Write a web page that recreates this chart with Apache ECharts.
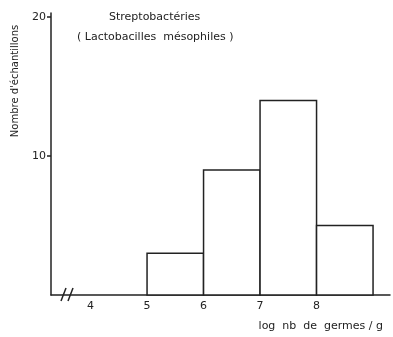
<!DOCTYPE html>
<html>
<head>
<meta charset="utf-8">
<script src="https://cdn.jsdelivr.net/npm/echarts@6/dist/echarts.min.js"></script>
<style>
  html, body { margin: 0; padding: 0; background: #fff; }
  #main { width: 393px; height: 337px; }
</style>
</head>
<body>
<div id="main"></div>
<script>
// class bounds (log germs / g) and sample counts
var binStart = [5, 6, 7, 8];
var binEnd = [6, 7, 8, 9];
var counts = [3, 9, 14, 5];
var xTickLabels = [4, 5, 6, 7, 8];
var yTickLabels = [10, 20];

var ink = '#222';
var font = 'DejaVu Sans';

var chart = echarts.init(document.getElementById('main'));

var bars = binStart.map(function (s, i) {
  return [s, binEnd[i], counts[i]];
});

var option = {
  animation: false,
  backgroundColor: '#fff',
  title: [
    {
      text: 'Streptobactéries',
      left: 104, top: 7,
      textStyle: { fontFamily: font, fontSize: 11, fontWeight: 'normal', color: ink }
    },
    {
      text: '( Lactobacilles  mésophiles )',
      left: 72, top: 27,
      textStyle: { fontFamily: font, fontSize: 11, fontWeight: 'normal', color: ink }
    }
  ],
  grid: { left: 51, right: 3, top: 13, bottom: 42 },
  xAxis: {
    type: 'value',
    min: 3.3,
    max: 9.3,
    splitLine: { show: false },
    axisLine: { lineStyle: { color: ink, width: 1.5 } },
    axisTick: { show: false },
    axisLabel: {
      customValues: xTickLabels,
      margin: 6,
      fontFamily: font, fontSize: 11, color: ink
    }
  },
  yAxis: {
    type: 'value',
    min: 0,
    max: 20.3,
    splitLine: { show: false },
    axisLine: { show: true, lineStyle: { color: ink, width: 1.5 } },
    axisTick: { show: true, customValues: yTickLabels, length: 4, lineStyle: { color: ink, width: 1.5 } },
    axisLabel: {
      customValues: yTickLabels,
      margin: 5,
      fontFamily: font, fontSize: 11, color: ink
    }
  },
  graphic: [
    {
      type: 'text',
      x: 15, y: 81,
      rotation: Math.PI / 2,
      style: {
        text: "Nombre d'échantillons",
        fontFamily: font, fontSize: 10, fill: ink,
        align: 'center', verticalAlign: 'middle'
      }
    },
    {
      type: 'text',
      right: 10, top: 321,
      style: {
        text: 'log  nb  de  germes / g',
        fontFamily: font, fontSize: 11, fill: ink
      }
    },
    // axis break marks
    {
      type: 'rect',
      shape: { x: 64, y: 292, width: 8, height: 6 },
      style: { fill: '#fff' }
    },
    {
      type: 'line',
      shape: { x1: 61, y1: 301, x2: 66, y2: 288 },
      style: { stroke: ink, lineWidth: 1.5 }
    },
    {
      type: 'line',
      shape: { x1: 68, y1: 301, x2: 73, y2: 288 },
      style: { stroke: ink, lineWidth: 1.5 }
    }
  ],
  series: [
    {
      type: 'custom',
      data: bars,
      encode: { x: [0, 1], y: 2 },
      renderItem: function (params, api) {
        var p0 = api.coord([api.value(0), 0]);
        var p1 = api.coord([api.value(1), api.value(2)]);
        return {
          type: 'rect',
          shape: { x: p0[0], y: p1[1], width: p1[0] - p0[0], height: p0[1] - p1[1] },
          style: { fill: '#fff', stroke: ink, lineWidth: 1.5 }
        };
      }
    }
  ]
};

chart.setOption(option);
</script>
</body>
</html>
